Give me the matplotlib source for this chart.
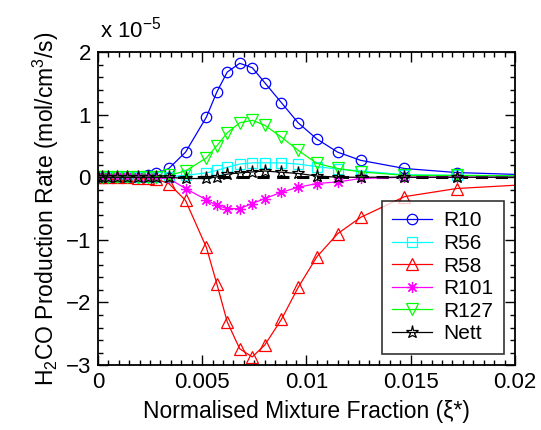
import matplotlib
matplotlib.use("Agg")
import matplotlib.pyplot as plt
from matplotlib.ticker import MultipleLocator

plt.rcParams['font.family'] = ['Liberation Sans', 'DejaVu Sans']
plt.rcParams['mathtext.fontset'] = 'custom'
plt.rcParams['mathtext.rm'] = 'Liberation Sans'
plt.rcParams['mathtext.it'] = 'Liberation Sans:italic'

# normalised mixture fraction (shared grid), last point lies beyond the x-limit
xi = [0.0, 0.0002, 0.0005, 0.0009, 0.0014, 0.0019, 0.0024, 0.0028, 0.0034,
      0.0042, 0.0052, 0.0057, 0.0062, 0.0068, 0.0074, 0.0080, 0.0088, 0.0096,
      0.0105, 0.0115, 0.0126, 0.0147, 0.0172, 0.0215]

# production rates in units of 1e-5 mol/cm^3/s
r10 = [0.0, 0.0, 0.0, 0.0, 0.0, 0.01, 0.03, 0.06, 0.14, 0.40, 0.96, 1.36,
       1.68, 1.82, 1.75, 1.51, 1.19, 0.87, 0.61, 0.40, 0.27, 0.14, 0.075, 0.03]
r56 = [0.0, 0.0, 0.0, 0.0, 0.0, 0.0, 0.0, 0.0, 0.01, 0.03, 0.07, 0.11,
       0.16, 0.21, 0.23, 0.23, 0.23, 0.21, 0.17, 0.13, 0.10, 0.04, 0.03, 0.02]
r58 = [0.0, 0.0, 0.0, 0.0, 0.0, -0.01, -0.02, -0.03, -0.10, -0.37, -1.12, -1.70,
       -2.31, -2.74, -2.87, -2.68, -2.27, -1.76, -1.27, -0.90, -0.64, -0.31, -0.18, -0.10]
r101 = [0.0, 0.0, 0.0, 0.0, 0.0, 0.0, 0.0, -0.01, -0.02, -0.18, -0.36, -0.45,
        -0.50, -0.50, -0.42, -0.34, -0.24, -0.16, -0.10, -0.075, -0.02, 0.0, 0.0, 0.0]
r127 = [0.0, 0.0, 0.0, 0.0, 0.0, 0.0, 0.0, 0.01, 0.03, 0.10, 0.31, 0.50,
        0.71, 0.87, 0.91, 0.83, 0.64, 0.43, 0.22, 0.14, 0.085, 0.03, 0.03, 0.02]
nett = [0.0, 0.0, 0.0, 0.0, 0.0, 0.0, 0.0, 0.0, 0.0, -0.02, -0.02, 0.005,
        0.05, 0.07, 0.085, 0.10, 0.08, 0.06, 0.02, 0.0, 0.0, 0.0, 0.0, 0.0]

series = [
    ('R10', r10, '#0000ff', 'o', 7.5),
    ('R56', r56, '#00ffff', 's', 6.5),
    ('R58', r58, '#ff0000', '^', 8),
    ('R101', r101, '#ff00ff', (8, 2, 0), 8),
    ('R127', r127, '#00ff00', 'v', 8),
    ('Nett', nett, '#000000', '*', 9.5),
]

fig = plt.figure(figsize=(5.41, 4.30), dpi=100)
ax = fig.add_axes([0.181, 0.151, 0.771, 0.728])

for name, vals, col, mk, ms in series:
    ax.plot(xi, vals, color=col, lw=0.9, marker=mk, ms=ms, mfc='none',
            mec=col, mew=0.9, label=name)

ax.axhline(0, color='k', ls='--', lw=2.2, dashes=(4, 2.5), zorder=1.5)

ax.set_xlim(0, 0.02)
ax.set_ylim(-3, 2)
ax.xaxis.set_minor_locator(MultipleLocator(0.0005))
ax.yaxis.set_minor_locator(MultipleLocator(0.2))
ax.set_xticks([0, 0.005, 0.01, 0.015, 0.02])
ax.set_xticklabels(['0', '0.005', '0.01', '0.015', '0.02'])
ax.set_yticks([-3, -2, -1, 0, 1, 2])
ax.set_yticklabels(['\u22123', '\u22122', '\u22121', '0', '1', '2'])

ax.tick_params(which='both', direction='in', top=True, right=True,
               labelsize=16, width=1)
ax.tick_params(which='major', length=7, pad=5)
ax.tick_params(which='minor', length=3.5)
for sp in ax.spines.values():
    sp.set_linewidth(1.3)

ax.set_xlabel('Normalised Mixture Fraction (\u03be*)', fontsize=16.5, labelpad=5)
ax.set_ylabel('H$_2$CO Production Rate (mol/cm$^3$/s)', fontsize=16.5, labelpad=3)
ax.text(0.005, 1.03, 'x 10$^{\u22125}$', transform=ax.transAxes, fontsize=16,
        ha='left', va='bottom')

leg = ax.legend(loc='lower right', fontsize=15, frameon=True, fancybox=False,
                edgecolor='k', handlelength=1.9, borderaxespad=0.55,
                labelspacing=0.17, handletextpad=0.55, borderpad=0.5)
leg.get_frame().set_linewidth(1.2)

fig.savefig('out.png', dpi=100)
